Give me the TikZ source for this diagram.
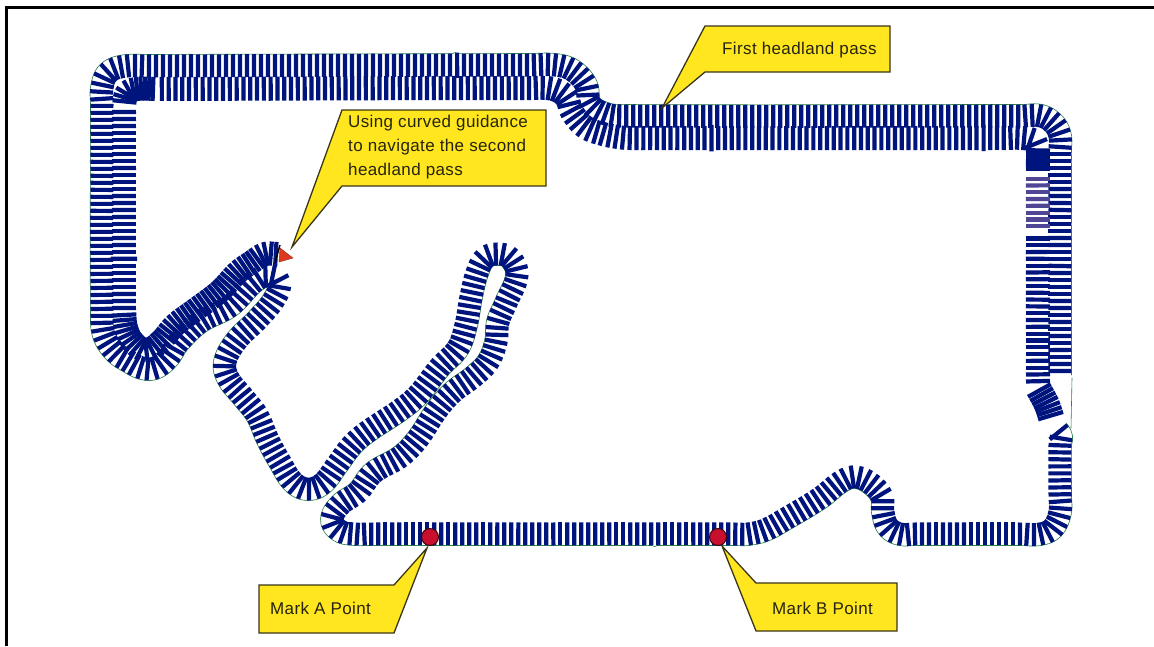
\documentclass[tikz,border=0pt]{standalone}
\usepackage{fontspec}
\setmainfont{Liberation Sans}
\newfontfamily\calloutfont[LetterSpace=2.2]{Liberation Sans}
\definecolor{navy}{HTML}{00147D}
\definecolor{paleNavy}{HTML}{4F4796}
\definecolor{edgeGreen}{HTML}{2F7F4F}
\definecolor{calloutYellow}{HTML}{FFE61E}
\definecolor{calloutEdge}{HTML}{3A3618}
\definecolor{labelInk}{HTML}{26240F}
\definecolor{markRed}{HTML}{C8102E}
\definecolor{tractorRed}{HTML}{DC3A1E}
\tikzset{
  swathtick/.style={line width=4.2pt},
  boundary/.style={draw=edgeGreen,line width=.6pt,line cap=round},
  callout/.style={draw=calloutEdge,fill=calloutYellow,line width=1.3pt,line join=miter},
  calloutlabel/.style={text=labelInk,font=\calloutfont\fontsize{17}{24}\selectfont,anchor=west,align=left,inner sep=0pt},
  markpoint/.style={circle,draw=black!70!markRed,fill=markRed,line width=1pt,minimum size=17pt,inner sep=0pt},
  frameline/.style={draw=black,line width=3pt}
}
\newcount\swN
\newcommand\swLoad[1]{\global\swN=0
  \foreach \qx/\qy in {#1}{\global\advance\swN by 1
    \expandafter\xdef\csname swx\the\swN\endcsname{\qx}%
    \expandafter\xdef\csname swy\the\swN\endcsname{\qy}}}
\newcommand\swX[1]{\csname swx\number#1\endcsname}
\newcommand\swY[1]{\csname swy\number#1\endcsname}
\newcommand\swTan[3]{% index, out x, out y
  \ifnum#1>1 \pgfmathtruncatemacro\ia{#1-1}\else \def\ia{1}\fi
  \ifnum#1<\swN \pgfmathtruncatemacro\ic{#1+1}\else \edef\ic{#1}\fi
  \pgfmathsetmacro\ddx{\swX{\ic}-\swX{\ia}}%
  \pgfmathsetmacro\ddy{\swY{\ic}-\swY{\ia}}%
  \pgfmathsetmacro\ddl{veclen(\ddx,\ddy)}%
  \pgfmathsetmacro#2{\ddx/\ddl}%
  \pgfmathsetmacro#3{\ddy/\ddl}}
% #1 point list, #2 colour, #3 spacing, #4 half width, #5 1 = draw outer edge
\newcommand\swathPass[5]{%
  \swLoad{#1}%
  \xdef\swacc{0}%
  \xdef\swfirst{1}%
  \pgfmathtruncatemacro\lastseg{\the\swN-1}%
  \foreach \i in {1,...,\lastseg}{%
    \pgfmathtruncatemacro\ib{\i+1}%
    \swTan{\i}{\tax}{\tay}%
    \swTan{\ib}{\tbx}{\tby}%
    \edef\xo{\swX{\i}}\edef\yo{\swY{\i}}%
    \edef\xe{\swX{\ib}}\edef\ye{\swY{\ib}}%
    \pgfmathsetmacro\segL{veclen(\xe-\xo,\ye-\yo)}%
    \pgfmathsetmacro\cax{\xo+.36*\segL*\tax}%
    \pgfmathsetmacro\cay{\yo+.36*\segL*\tay}%
    \pgfmathsetmacro\cbx{\xe-.36*\segL*\tbx}%
    \pgfmathsetmacro\cby{\ye-.36*\segL*\tby}%
    \pgfmathtruncatemacro\nst{max(1,ceil(\segL/2.5))}%
    \xdef\prx{\xo}\xdef\pry{\yo}%
    \foreach \k in {1,...,\nst}{%
      \pgfmathsetmacro\swt{\k/\nst}%
      \pgfmathsetmacro\swu{1-\swt}%
      \pgfmathsetmacro\bza{\swu*\swu*\swu}%
      \pgfmathsetmacro\bzb{3*\swu*\swu*\swt}%
      \pgfmathsetmacro\bzc{3*\swu*\swt*\swt}%
      \pgfmathsetmacro\bzd{\swt*\swt*\swt}%
      \pgfmathsetmacro\qqx{\bza*\xo+\bzb*\cax+\bzc*\cbx+\bzd*\xe}%
      \pgfmathsetmacro\qqy{\bza*\yo+\bzb*\cay+\bzc*\cby+\bzd*\ye}%
      \pgfmathsetmacro\ex{\qqx-\prx}%
      \pgfmathsetmacro\ey{\qqy-\pry}%
      \pgfmathsetmacro\dd{veclen(\ex,\ey)}%
      \ifdim\dd pt>0.02pt
        \pgfmathsetmacro\ux{\ex/\dd}%
        \pgfmathsetmacro\uy{\ey/\dd}%
        \ifnum#5=1
          \pgfmathsetmacro\ofx{\qqx-\uy*#4}%
          \pgfmathsetmacro\ofy{\qqy+\ux*#4}%
          \ifnum\swfirst=0
            \draw[boundary] (\pox,\poy) -- (\ofx,\ofy);
          \fi
          \xdef\pox{\ofx}\xdef\poy{\ofy}\xdef\swfirst{0}%
        \fi
        \pgfmathsetmacro\swnew{\swacc+\dd}%
        \xdef\swacc{\swnew}%
        \ifdim\swacc pt>#3pt
          \pgfmathsetmacro\over{\swacc-#3}%
          \xdef\swacc{\over}%
          \pgfmathsetmacro\mx{\qqx-\over*\ux}%
          \pgfmathsetmacro\my{\qqy-\over*\uy}%
          \draw[swathtick,draw=#2] (\mx-\uy*#4,\my+\ux*#4) -- (\mx+\uy*#4,\my-\ux*#4);
        \fi
        \xdef\prx{\qqx}\xdef\pry{\qqy}%
      \fi
    }%
  }%
}
\begin{document}
\begin{tikzpicture}[x=1pt,y=-1pt]
\useasboundingbox (0,0) rectangle (1154,646);
\fill[white] (0,0) rectangle (1154,646);
\draw[frameline] (6.5,646) -- (6.5,7.5) -- (1154,7.5);
\draw[boundary] (1072,378) -- (1071,428);
% first headland pass
\swathPass{1060/378,1060/150,1060/136,1054/124,1041/116,1022/116,625/116,606/114,590/104,586/85,572/70,555/65,530/65,150/66,123/66.5,108/73,102/88,102/105,102/315,104/335,115/352,128/361,142/368,155/368,168/358,178/343,200/322,230/306,255/281,268/276,279/282,275/298,257/320,237/340,225/362,228/378,243/397,257/415,268/440,280/462,293/482,307/489,322/484,337/465,352/445,367/432,400/410,418/395,440/367,458/348,466/325,471/297,477/273,485/258,497/254,510/258,517/275,506/303,498/322,496/342,488/362,473/377,453/392,437/410,417/440,400/457,373/473,358/492,340/505,332/520,340/531,355/534,370/534,735/534,748/534,765/530,787/518,820/498,842/481,855/477,870/483,882/497,883/512,888/527,900/534,915/534,1020/534,1040/534,1053/528,1060/512,1060/495,1060/445,1061/436,1057/430}{navy}{7}{11.5}{1}
% second headland pass
\swathPass{1052/420,1047/405,1038/388}{navy}{4.6}{13}{0}
\swathPass{1038/388,1038/375,1038/233}{navy}{6.8}{12}{0}
\swathPass{1038/233,1038/172}{paleNavy}{6.8}{12}{0}
\swathPass{1038/172,1038/150}{navy}{3.6}{12}{0}
\swathPass{1038/150,1034/141,1022/138,1005/138,630/138,618/137,603/134,585/127,572/112,566/97,553/89,530/88,157/89}{navy}{6.8}{12}{0}
\swathPass{157/89,137/89,127/93,124/105}{navy}{4}{12}{0}
\swathPass{124/105,124/120,124/310}{navy}{7}{12}{0}
\swathPass{124/310,126/328,133/342,146/350,160/342,175/325,195/310,220/291,238/272,252/262,265/254,277/254}{navy}{5}{12}{0}
% tractor
\fill[tractorRed,draw=tractorRed!70!black,line width=.4pt] (280,248) -- (293,258) -- (279,262) -- cycle;
\draw[black,line width=1.4pt] (280,245) -- (275,263);
% callouts
\draw[callout] (705,26) -- (890,26) -- (890,72) -- (705,72) -- (662,108) -- cycle;
\node[calloutlabel] (first) at (722,50) {First headland pass};
\draw[callout] (342,110) -- (546,110) -- (546,186) -- (342,186) -- (292,247) -- cycle;
\node[calloutlabel] (guide) at (348,147) {Using curved guidance\\to navigate the second\\headland pass};
\draw[callout] (259,585) -- (394,585) -- (427,548) -- (394,633) -- (259,633) -- cycle;
\node[calloutlabel] (marka) at (270,608) {Mark A Point};
\draw[callout] (756,583) -- (897,583) -- (897,631) -- (756,631) -- (722,546) -- cycle;
\node[calloutlabel] (markb) at (772,608) {Mark B Point};
\node[markpoint] (a) at (430,537) {};
\node[markpoint] (b) at (718,537) {};
\end{tikzpicture}
\end{document}
